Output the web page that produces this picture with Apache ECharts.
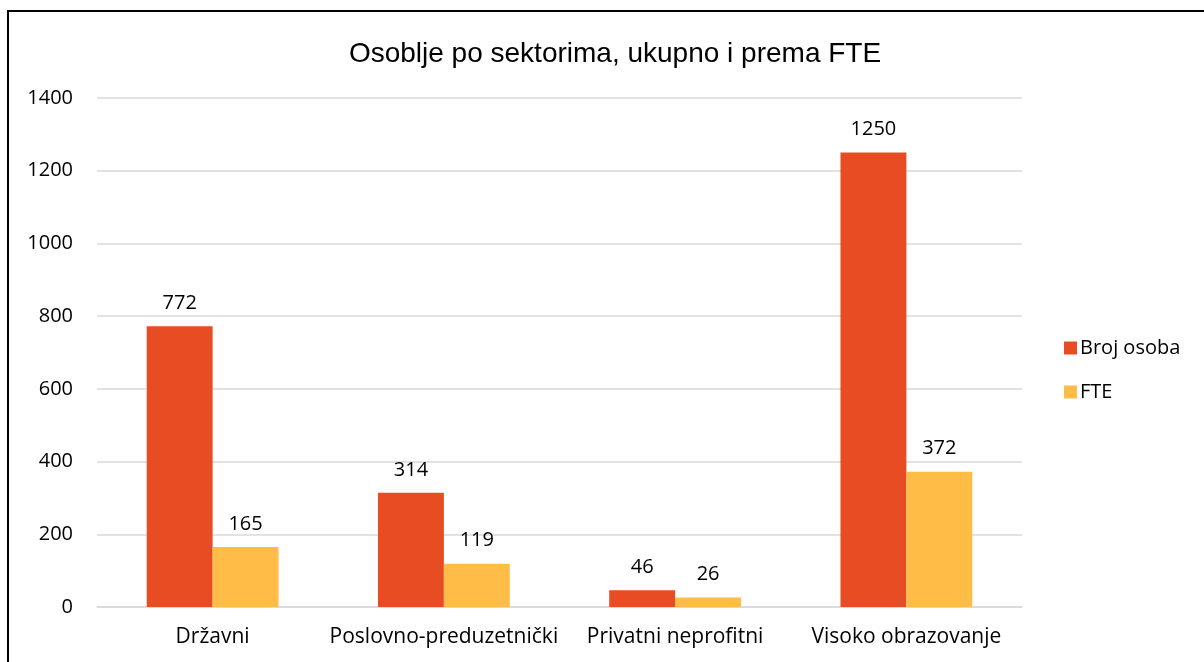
<!DOCTYPE html>
<html>
<head>
<meta charset="utf-8">
<script src="https://cdn.jsdelivr.net/npm/echarts@6/dist/echarts.min.js"></script>
<style>
    html, body { margin: 0; padding: 0; background: #fff; overflow: hidden; }
    #chart { width: 1204px; height: 662px; }
    #frame {
        position: absolute; left: 7px; top: 10px;
        width: 1300px; height: 800px;
        border: 2px solid #000; pointer-events: none;
    }
</style>
</head>
<body>
<div id="chart"></div>
<div id="frame"></div>
<script>
const categories = ['Državni', 'Poslovno-preduzetnički', 'Privatni neprofitni', 'Visoko obrazovanje']
const brojOsoba = [772, 314, 46, 1250]
const fte = [165, 119, 26, 372]
const seriesNames = ['Broj osoba', 'FTE']

const textFont = '"Open Sans", sans-serif'
const labelStyle = {
    show: true,
    position: 'top',
    distance: 13,
    color: '#000',
    fontSize: 20,
    fontFamily: textFont
}

const mychart = echarts.init(document.getElementById('chart'))
mychart.setOption({
    animation: false,
    title: {
        text: 'Osoblje po sektorima, ukupno i prema FTE',
        left: 610,
        textAlign: 'center',
        top: 35,
        textStyle: {
            color: '#000',
            fontSize: 28,
            fontWeight: 'normal',
            fontFamily: '"Liberation Sans", Arial, sans-serif'
        }
    },
    legend: {
        orient: 'vertical',
        left: 1059,
        top: 333,
        itemWidth: 13,
        itemHeight: 13,
        itemGap: 24,
        icon: 'rect',
        textStyle: { color: '#000', fontSize: 20, fontFamily: textFont, padding: [0, 0, 0, -2] },
        data: seriesNames
    },
    grid: {
        left: 97,
        right: 182,
        top: 98,
        bottom: 55,
        containLabel: false
    },
    xAxis: {
        type: 'category',
        data: categories,
        axisLine: { lineStyle: { color: '#d9d9d9', width: 1.5 } },
        axisTick: { show: false },
        axisLabel: { interval: 0, color: '#000', fontSize: 21, fontFamily: textFont, margin: 20 }
    },
    yAxis: {
        type: 'value',
        min: 0,
        max: 1400,
        interval: 200,
        axisLine: { show: false },
        axisTick: { show: false },
        splitLine: { lineStyle: { color: '#d9d9d9', width: 1.5 } },
        axisLabel: {
            color: '#000', fontSize: 20, fontFamily: textFont, margin: 24,
            formatter: v => String(v)
        }
    },
    series: [
        {
            name: seriesNames[0],
            type: 'bar',
            data: brojOsoba,
            barGap: '0%',
            barCategoryGap: '43%',
            itemStyle: { color: '#e84c22' },
            label: labelStyle
        },
        {
            name: seriesNames[1],
            type: 'bar',
            data: fte,
            itemStyle: { color: '#ffbd47' },
            label: labelStyle
        }
    ]
})
window.onresize = () => {
    mychart.resize()
}
</script>
</body>
</html>
